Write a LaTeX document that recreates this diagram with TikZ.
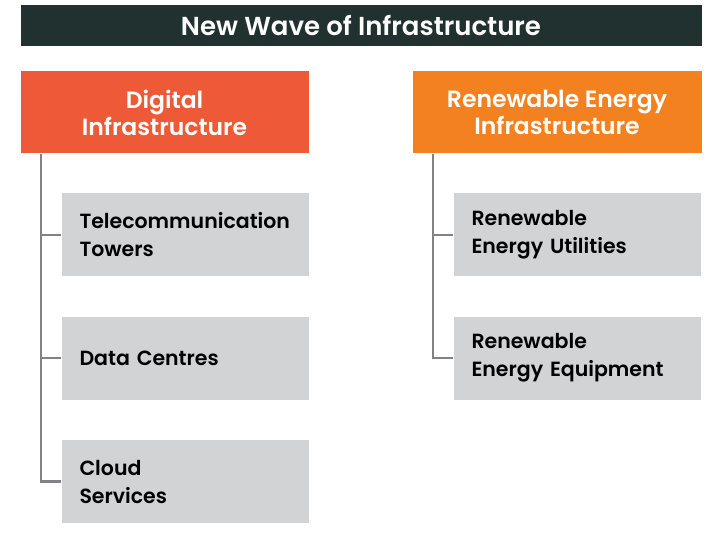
\documentclass[tikz,border=0pt]{standalone}
\usepackage{fontspec}
\setmainfont{Poppins}[UprightFont=* Medium, BoldFont=* SemiBold]
\usetikzlibrary{positioning}
\definecolor{titlebg}{HTML}{213130}
\definecolor{digitalred}{HTML}{EE5A37}
\definecolor{energyorange}{HTML}{F4811F}
\definecolor{itemgray}{HTML}{D1D3D4}
\definecolor{linegray}{HTML}{808285}

\begin{document}
\begin{tikzpicture}[x=1pt, y=1pt, headbox/.style={rectangle, minimum width=288pt, minimum height=82pt, text=white, align=center, font=\fontsize{23.5}{27}\selectfont\bfseries}, itembox/.style={rectangle, fill=itemgray, minimum width=247pt, minimum height=83pt, text width=211pt, inner xsep=18pt, align=left, font=\fontsize{20.5}{28}\selectfont\bfseries}, conn/.style={draw=linegray, line width=2.5pt}]

  \useasboundingbox (0,0) rectangle (721,-536);
  \node[rectangle, fill=titlebg, minimum width=681pt, minimum height=41pt, text=white, font=\fontsize{26}{28}\selectfont\bfseries] (title) at (361,-25.5) {New Wave of Infrastructure};
  \node[headbox, fill=digitalred] (dig) [below=25pt of title.south west, anchor=north west] {Digital\\Infrastructure};
  \node[headbox, fill=energyorange, minimum width=289pt] (ren) [below=25pt of title.south east, anchor=north east] {Renewable Energy\\Infrastructure};
  \node[itembox] (tel) [below right=39.5pt and 41pt of dig.south west] {Telecommunication\\Towers};
  \node[itembox] (data) [below=40pt of tel] {Data Centres};
  \node[itembox] (cloud) [below=40pt of data] {Cloud\\Services};
  \node[itembox] (util) [below right=39.5pt and 41pt of ren.south west] {Renewable\\Energy Utilities};
  \node[itembox] (equip) [below=40pt of util] {Renewable\\Energy Equipment};
  \coordinate (dtrunk) at ([xshift=20.5pt]dig.south west);
  \coordinate (rtrunk) at ([xshift=20.5pt]ren.south west);

  \draw[conn] (dtrunk) |- (cloud.west);
  \draw[conn] (tel.west) -- (tel.west -| dtrunk);
  \draw[conn] (data.west) -- (data.west -| dtrunk);
  \draw[conn] (rtrunk) |- (equip.west);
  \draw[conn] (util.west) -- (util.west -| rtrunk);
\end{tikzpicture}
\end{document}
